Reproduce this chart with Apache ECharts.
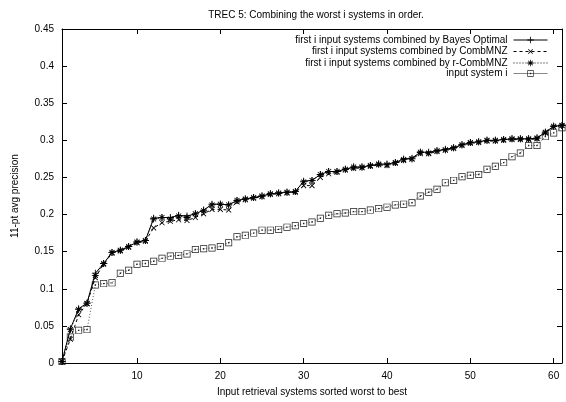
<!DOCTYPE html>
<html>
<head>
<meta charset="utf-8">
<script src="https://cdn.jsdelivr.net/npm/echarts@6/dist/echarts.min.js"></script>
<style>html,body{margin:0;padding:0;background:#fff}#c{width:566px;height:402px}</style>
</head>
<body>
<div id="c"></div>
<script>
var systems = [1,2,3,4,5,6,7,8,9,10,11,12,13,14,15,16,17,18,19,20,21,22,23,24,25,26,27,28,29,30,31,32,33,34,35,36,37,38,39,40,41,42,43,44,45,46,47,48,49,50,51,52,53,54,55,56,57,58,59,60,61];

var bayesOptimal = [0.002,0.046,0.073,0.081,0.121,0.134,0.149,0.152,0.157,0.163,0.165,0.195,0.196,0.196,0.199,0.198,0.201,0.206,0.214,0.214,0.213,0.219,0.221,0.223,0.225,0.228,0.229,0.230,0.231,0.245,0.246,0.254,0.258,0.258,0.261,0.264,0.264,0.266,0.268,0.268,0.270,0.275,0.276,0.284,0.284,0.286,0.288,0.290,0.294,0.297,0.298,0.300,0.300,0.301,0.302,0.302,0.302,0.303,0.311,0.319,0.320];

var combMNZ = [0.002,0.032,0.065,0.080,0.115,0.133,0.148,0.151,0.156,0.162,0.164,0.182,0.189,0.191,0.193,0.192,0.196,0.201,0.207,0.207,0.206,0.217,0.220,0.222,0.224,0.227,0.228,0.229,0.230,0.239,0.239,0.250,0.255,0.257,0.260,0.262,0.263,0.265,0.267,0.266,0.269,0.273,0.275,0.282,0.282,0.285,0.287,0.289,0.293,0.296,0.297,0.299,0.299,0.300,0.301,0.301,0.301,0.302,0.310,0.318,0.320];

var rCombMNZ = [0.002,0.045,0.072,0.080,0.118,0.134,0.149,0.152,0.157,0.163,0.165,0.194,0.196,0.194,0.198,0.196,0.201,0.205,0.213,0.214,0.213,0.219,0.221,0.223,0.225,0.228,0.229,0.230,0.231,0.244,0.246,0.254,0.258,0.258,0.261,0.264,0.264,0.266,0.268,0.267,0.270,0.274,0.275,0.284,0.283,0.286,0.287,0.290,0.294,0.297,0.298,0.300,0.300,0.301,0.302,0.302,0.302,0.303,0.311,0.319,0.320];

var inputSystem = [0.002,0.035,0.044,0.045,0.105,0.107,0.108,0.121,0.125,0.133,0.134,0.137,0.141,0.144,0.145,0.147,0.153,0.154,0.155,0.157,0.162,0.170,0.172,0.175,0.179,0.179,0.180,0.183,0.185,0.188,0.190,0.195,0.199,0.201,0.202,0.204,0.204,0.206,0.208,0.210,0.213,0.214,0.216,0.225,0.230,0.234,0.243,0.246,0.251,0.253,0.254,0.261,0.265,0.270,0.278,0.283,0.293,0.293,0.305,0.310,0.317];

var xTicks = [10,20,30,40,50,60];
var names = [
  'first i input systems combined by Bayes Optimal',
  'first i input systems combined by CombMNZ',
  'first i input systems combined by r-CombMNZ',
  'input system i'
];
var titleText = 'TREC 5: Combining the worst i systems in order.';
var xName = 'Input retrieval systems sorted worst to best';
var yName = '11-pt avg precision';

function pairs(vals){ return systems.map(function(s,i){ return [s, vals[i]]; }); }

var FONT = 'Liberation Sans';
var plusPath = 'path://M-0.6,-5L0.6,-5L0.6,-0.6L5,-0.6L5,0.6L0.6,0.6L0.6,5L-0.6,5L-0.6,0.6L-5,0.6L-5,-0.6L-0.6,-0.6Z';
var starPath = 'path://M-0.6,-5L0.6,-5L0.6,-0.6L5,-0.6L5,0.6L0.6,0.6L0.6,5L-0.6,5L-0.6,0.6L-5,0.6L-5,-0.6L-0.6,-0.6Z' +
  'M3.11,-3.96L3.96,-3.11L0.85,0L3.96,3.11L3.11,3.96L0,0.85L-3.11,3.96L-3.96,3.11L-0.85,0L-3.96,-3.11L-3.11,-3.96L0,-0.85Z';
var boxDotPath = 'path://M-5,-5L5,-5L5,5L-5,5Z M-4,-4L-4,4L4,4L4,-4Z M-1,-1L1,-1L1,1L-1,1Z';

var chart = echarts.init(document.getElementById('c'), null, {renderer:'canvas'});

var legendTops = [35, 46.5, 58, 68.5];
var legendLine = [
  {type:'solid', color:'#000', width:1},
  {type:[3,3], color:'#000', width:1},
  {type:[1,2], color:'#000', width:1},
  {type:'solid', color:'#888', width:1}
];
var legends = names.map(function(n, i){
  return {
    data: [{name: n, lineStyle: legendLine[i]}], right: 18, top: legendTops[i], align: 'right', orient: 'vertical',
    padding: 0, itemWidth: 34, itemHeight: 8, itemGap: 0, selectedMode: false,
    lineStyle: legendLine[i],
    textStyle: {fontFamily: FONT, fontSize: 10, color: '#000', padding: [0, 1, 0, 0]}
  };
});

chart.setOption({
  animation: false,
  backgroundColor: '#fff',
  title: {
    text: titleText, left: 311, top: 5, textAlign: 'center',
    textStyle: {fontFamily: FONT, fontSize: 10, fontWeight: 'normal', color: '#000'}
  },
  legend: legends,
  grid: {left: 62, right: 4, top: 29, bottom: 39},
  xAxis: [{
    type: 'value', min: 1, max: 61, position: 'bottom',
    name: xName, nameLocation: 'middle', nameGap: 24,
    nameTextStyle: {fontFamily: FONT, fontSize: 10, color: '#000'},
    axisLine: {show: true, lineStyle: {color: '#000', width: 1}},
    axisTick: {show: true, inside: true, length: 5, customValues: xTicks, lineStyle: {color: '#000'}},
    axisLabel: {customValues: xTicks, fontFamily: FONT, fontSize: 10, color: '#000', margin: 8},
    splitLine: {show: false}
  }, {
    type: 'value', min: 1, max: 61, position: 'top',
    axisLine: {show: true, onZero: false, lineStyle: {color: '#000', width: 1}},
    axisTick: {show: true, inside: true, length: 5, customValues: xTicks, lineStyle: {color: '#000'}},
    axisLabel: {show: false},
    splitLine: {show: false}
  }],
  yAxis: [{
    type: 'value', min: 0, max: 0.45, interval: 0.05, position: 'left',
    name: yName, nameLocation: 'middle', nameGap: 42, nameRotate: 90,
    nameTextStyle: {fontFamily: FONT, fontSize: 10, color: '#000'},
    axisLine: {show: true, lineStyle: {color: '#000', width: 1}},
    axisTick: {show: true, inside: true, length: 5, lineStyle: {color: '#000'}},
    axisLabel: {fontFamily: FONT, fontSize: 10, color: '#000', margin: 8,
      formatter: function(v){ return String(Math.round(v*100)/100); }},
    splitLine: {show: false}
  }, {
    type: 'value', min: 0, max: 0.45, interval: 0.05, position: 'right',
    axisLine: {show: true, onZero: false, lineStyle: {color: '#000', width: 1}},
    axisTick: {show: true, inside: true, length: 5, lineStyle: {color: '#000'}},
    axisLabel: {show: false},
    splitLine: {show: false}
  }],
  series: [{
    name: names[0], type: 'line', data: pairs(bayesOptimal),
    symbol: plusPath, symbolSize: 7, showAllSymbol: true,
    lineStyle: {color: '#000', width: 1, type: 'solid'},
    itemStyle: {color: '#000'}, z: 4
  }, {
    name: names[1], type: 'line', data: pairs(combMNZ),
    symbol: plusPath, symbolRotate: 45, symbolSize: 7, showAllSymbol: true,
    lineStyle: {color: '#000', width: 1, type: [3, 3]},
    itemStyle: {color: '#000'}, z: 3
  }, {
    name: names[2], type: 'line', data: pairs(rCombMNZ),
    symbol: starPath, symbolSize: 7, showAllSymbol: true,
    lineStyle: {color: '#000', width: 1, type: [1, 2]},
    itemStyle: {color: '#000'}, z: 5
  }, {
    name: names[3], type: 'line', data: pairs(inputSystem),
    symbol: boxDotPath, symbolSize: 7, showAllSymbol: true,
    lineStyle: {color: '#555', width: 1, type: [1, 2]},
    itemStyle: {color: '#222'}, z: 2
  }]
});
</script>
</body>
</html>
